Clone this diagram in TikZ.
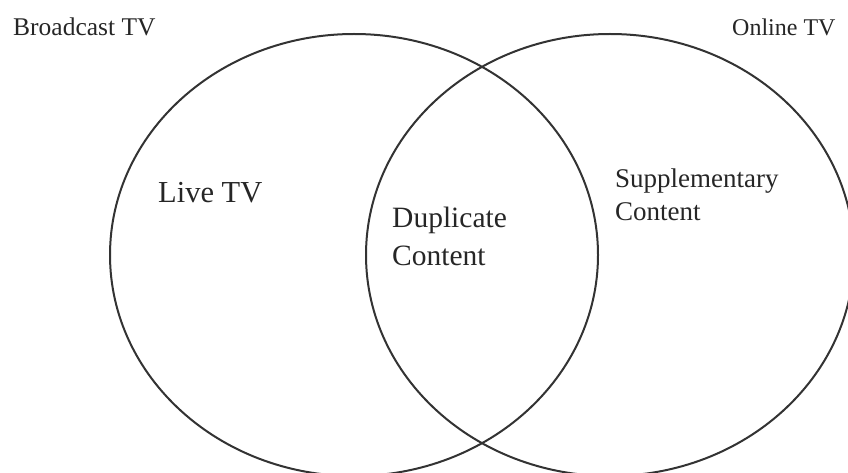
\documentclass[tikz,border=0pt]{standalone}
\usepackage{fontspec}
\setmainfont{Liberation Serif}
\usetikzlibrary{shapes.geometric}
\begin{document}
\begin{tikzpicture}[
    x = 1pt, y = -1pt,
    set/.style = {draw=black!80, line width=2pt, ellipse, inner sep=0pt,
                  minimum width=488pt, minimum height=442pt},
    lbl/.style = {anchor=base west, inner sep=0pt, align=left, text=black!85},
  ]
  \useasboundingbox (0,0) rectangle (848,473);
  \node[set] (broadcast) at (354,255) {};
  \node[set] (online) at (610,255) {};
  \node[lbl, font=\fontsize{25.5}{30}\selectfont] (broadcastname) at (13,36) {Broadcast TV};
  \node[lbl, font=\fontsize{24}{30}\selectfont] (onlinename) at (732,36) {Online TV};
  \node[lbl, font=\fontsize{30.5}{36}\selectfont] (live) at (158,203) {Live TV};
  % base anchor sits on the last line
  \node[lbl, font=\fontsize{29.5}{38}\selectfont] (duplicate) at (392,265) {Duplicate\\Content};
  \node[lbl, font=\fontsize{27}{33}\selectfont] (supplementary) at (615,220) {Supplementary\\Content};
\end{tikzpicture}
\end{document}
